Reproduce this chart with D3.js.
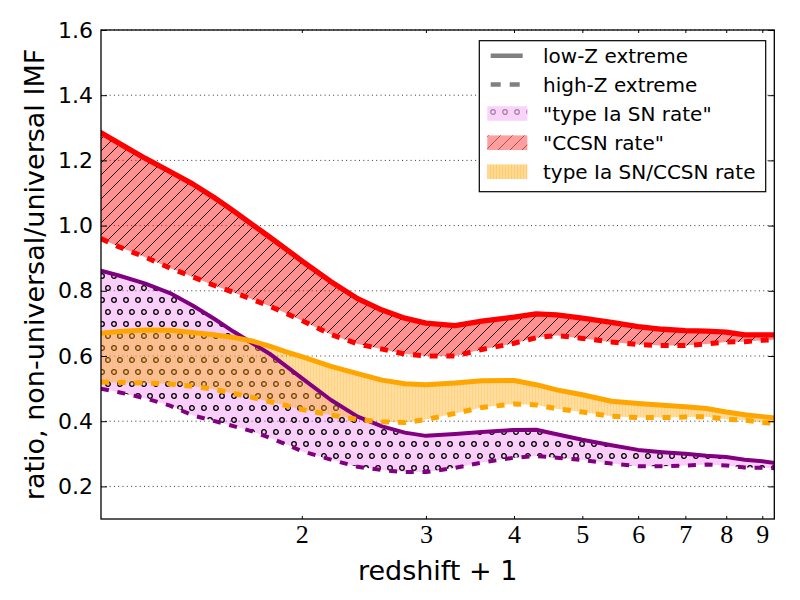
<!DOCTYPE html>
<html><head><meta charset="utf-8">
<script src="https://cdn.jsdelivr.net/npm/d3@7"></script>
<style>body{margin:0;background:#fff}</style>
</head><body>
<svg id="c" width="800" height="600" xmlns="http://www.w3.org/2000/svg"></svg>
<script>
// ---- data ----
const redshiftPlusOne = [1.038,1.1,1.2,1.3,1.4,1.5,1.6,1.7,1.8,1.9,2.0,2.2,2.4,2.6,2.8,3.0,3.3,3.6,4.0,4.3,4.6,5.0,5.5,6.0,6.5,7.0,7.5,8.0,8.5,9.0,9.36];
const ccsnLowZ  = [1.285,1.253,1.206,1.166,1.128,1.087,1.045,1.004,0.965,0.928,0.892,0.828,0.776,0.741,0.716,0.701,0.693,0.707,0.719,0.729,0.726,0.716,0.703,0.690,0.682,0.678,0.676,0.673,0.665,0.665,0.665];
const ccsnHighZ = [0.960,0.935,0.903,0.870,0.843,0.817,0.795,0.774,0.753,0.731,0.709,0.666,0.637,0.621,0.606,0.600,0.600,0.620,0.639,0.656,0.663,0.654,0.643,0.635,0.632,0.632,0.637,0.643,0.644,0.648,0.650];
const ratioLowZ = [0.670,0.675,0.680,0.679,0.672,0.665,0.657,0.646,0.630,0.613,0.598,0.568,0.546,0.526,0.515,0.512,0.517,0.524,0.525,0.512,0.496,0.481,0.461,0.454,0.449,0.444,0.439,0.428,0.420,0.414,0.410];
const ratioHighZ= [0.520,0.519,0.517,0.514,0.507,0.498,0.485,0.473,0.460,0.448,0.436,0.419,0.405,0.398,0.396,0.405,0.424,0.442,0.453,0.450,0.438,0.428,0.415,0.411,0.411,0.413,0.414,0.406,0.403,0.396,0.394];
const iaLowZ    = [0.862,0.847,0.822,0.793,0.755,0.715,0.675,0.640,0.607,0.569,0.532,0.465,0.414,0.384,0.365,0.355,0.361,0.367,0.373,0.374,0.360,0.343,0.326,0.312,0.305,0.300,0.294,0.290,0.282,0.277,0.272];
const iaHighZ   = [0.500,0.489,0.470,0.448,0.418,0.401,0.385,0.369,0.349,0.329,0.308,0.282,0.260,0.250,0.244,0.244,0.257,0.273,0.288,0.293,0.288,0.281,0.270,0.262,0.262,0.264,0.267,0.264,0.258,0.257,0.256];
const xTickValues = [2,3,4,5,6,7,8,9];
const yTickValues = [0.2,0.4,0.6,0.8,1.0,1.2,1.4,1.6];
const legendLabels = ["low-Z extreme","high-Z extreme","\"type Ia SN rate\"","\"CCSN rate\"","type Ia SN/CCSN rate"];
const xLabel = "redshift + 1";
const yLabel = "ratio, non-universal/universal IMF";

// ---- layout ----
const L = 101, R = 774.3, T = 30, B = 519;
const x = d3.scaleLog().domain([1.038, 9.36]).range([L, R]);
const y = d3.scaleLinear().domain([0.1, 1.6]).range([B, T]);

const svg = d3.select("#c");
const defs = svg.append("defs");

// patterns
const pc = defs.append("pattern").attr("id","hCirc").attr("patternUnits","userSpaceOnUse")
  .attr("width",12).attr("height",24);
[[0,0],[12,0],[6,12],[0,24],[12,24]].forEach(p=>pc.append("circle").attr("cx",p[0]).attr("cy",p[1]).attr("r",2.3)
  .attr("fill","none").attr("stroke","#000").attr("stroke-width",1.3));
const pcL = defs.append("pattern").attr("id","hCircL").attr("patternUnits","userSpaceOnUse")
  .attr("width",12).attr("height",24).attr("x",487).attr("y",100);
[[0,0],[12,0],[6,12],[0,24],[12,24]].forEach(p=>pcL.append("circle").attr("cx",p[0]).attr("cy",p[1]).attr("r",2.3)
  .attr("fill","none").attr("stroke","#a080a0").attr("stroke-width",1.2));

function diag(id, color, w){
  const p = defs.append("pattern").attr("id",id).attr("patternUnits","userSpaceOnUse").attr("width",12).attr("height",12);
  p.append("path").attr("d","M-3,3 l6,-6 M0,12 l12,-12 M9,15 l6,-6").attr("stroke",color).attr("stroke-width",w);
}
diag("hDiag","#000",0.9);
diag("hDiagL","#b05050",1);
function vert(id, color){
  const p = defs.append("pattern").attr("id",id).attr("patternUnits","userSpaceOnUse").attr("width",3).attr("height",10);
  p.append("line").attr("x1",1.5).attr("x2",1.5).attr("y1",0).attr("y2",10).attr("stroke",color).attr("stroke-width",1);
}
vert("hVert","rgba(255,165,0,0.18)");
vert("hVertL","rgba(255,165,0,0.25)");

defs.append("clipPath").attr("id","plotClip").append("rect")
  .attr("x",L).attr("y",T).attr("width",R-L).attr("height",B-T);

// grid
const grid = svg.append("g");
yTickValues.forEach(v=>{
  grid.append("line").attr("x1",L).attr("x2",R).attr("y1",y(v)).attr("y2",y(v))
    .attr("stroke","#000").attr("stroke-width",0.8).attr("stroke-dasharray","1,3.3");
});

const plot = svg.append("g").attr("clip-path","url(#plotClip)");
const idx = d3.range(redshiftPlusOne.length);
function band(lo, hi){
  return d3.area().x(i=>x(redshiftPlusOne[i])).y0(i=>y(lo[i])).y1(i=>y(hi[i]))(idx);
}
function line(vals){
  return d3.line().x(i=>x(redshiftPlusOne[i])).y(i=>y(vals[i]))(idx);
}

// type Ia band
plot.append("path").attr("d",band(iaHighZ,iaLowZ)).attr("fill","rgba(238,130,238,0.38)");
plot.append("path").attr("d",band(iaHighZ,iaLowZ)).attr("fill","url(#hCirc)");
// CCSN band
plot.append("path").attr("d",band(ccsnHighZ,ccsnLowZ)).attr("fill","rgba(255,0,0,0.43)");
plot.append("path").attr("d",band(ccsnHighZ,ccsnLowZ)).attr("fill","url(#hDiag)");
// ratio band
plot.append("path").attr("d",band(ratioHighZ,ratioLowZ)).attr("fill","rgba(255,165,0,0.38)");
plot.append("path").attr("d",band(ratioHighZ,ratioLowZ)).attr("fill","url(#hVert)");

// lines
const dash = "8,8.7";
function drawLine(vals, color, w, dashed){
  const p = plot.append("path").attr("d",line(vals)).attr("fill","none").attr("stroke",color)
    .attr("stroke-width",w).attr("stroke-linejoin","round");
  if(dashed) p.attr("stroke-dasharray",dash).attr("stroke-linecap","butt");
  else p.attr("stroke-linecap","square");
}
drawLine(iaHighZ,"purple",4,true);
drawLine(iaLowZ,"purple",4,false);
drawLine(ratioHighZ,"orange",5,true);
drawLine(ratioLowZ,"orange",5,false);
drawLine(ccsnHighZ,"red",5,true);
drawLine(ccsnLowZ,"red",5.3,false);

// axes
const yAxisL = d3.axisLeft(y).tickValues(yTickValues).tickSize(-6).tickPadding(8).tickFormat(d3.format(".1f"));
const gy = svg.append("g").attr("transform",`translate(${L},0)`).call(yAxisL);
gy.selectAll("text").attr("font-family","DejaVu Sans").attr("font-size",22).attr("fill","#000");
const gyR = svg.append("g").attr("transform",`translate(${R},0)`).call(d3.axisRight(y).tickValues(yTickValues).tickSize(-6).tickFormat(""));
const xAxisB = d3.axisBottom(x).tickValues(xTickValues).tickSize(-3).tickFormat(d3.format("d"));
const gx = svg.append("g").attr("transform",`translate(0,${B})`).call(xAxisB);
gx.selectAll("text").attr("font-family","Liberation Serif").attr("font-size",26).attr("fill","#000")
  .attr("y",24).attr("dy","0");
const gxT = svg.append("g").attr("transform",`translate(0,${T})`).call(d3.axisTop(x).tickValues(xTickValues).tickSize(-3).tickFormat(""));
[gy,gyR,gx,gxT].forEach(g=>{ g.select(".domain").remove(); g.selectAll(".tick line").attr("stroke","#000").attr("stroke-width",1); });

svg.append("rect").attr("x",L).attr("y",T).attr("width",R-L).attr("height",B-T)
  .attr("fill","none").attr("stroke","#000").attr("stroke-width",1.3);

// axis labels
svg.append("text").attr("x",(L+R)/2).attr("y",580).attr("text-anchor","middle")
  .attr("font-family","DejaVu Sans").attr("font-size",27).text(xLabel);
svg.append("text").attr("transform",`translate(44,${(T+B)/2}) rotate(-90)`).attr("text-anchor","middle")
  .attr("font-family","DejaVu Sans").attr("font-size",27).text(yLabel);

// legend
const lg = svg.append("g");
lg.append("rect").attr("x",479.3).attr("y",40.7).attr("width",286.4).attr("height",151)
  .attr("fill","#fff").attr("stroke","#000").attr("stroke-width",1.2);
const rowY = [55.7,84.5,113.5,142.7,171.7];
lg.append("line").attr("x1",490.7).attr("x2",522.7).attr("y1",rowY[0]).attr("y2",rowY[0])
  .attr("stroke","#808080").attr("stroke-width",4.5);
lg.append("line").attr("x1",490.7).attr("x2",522.7).attr("y1",rowY[1]).attr("y2",rowY[1])
  .attr("stroke","#808080").attr("stroke-width",4.5).attr("stroke-dasharray","10,9");
function patch(i, fill, hatch){
  lg.append("rect").attr("x",487.3).attr("y",rowY[i]-7.3).attr("width",40).attr("height",14.6).attr("fill",fill);
  if(hatch) lg.append("rect").attr("x",487.3).attr("y",rowY[i]-7.3).attr("width",40).attr("height",14.6).attr("fill",hatch);
}
patch(2,"rgba(238,130,238,0.35)","url(#hCircL)");
patch(3,"rgba(255,0,0,0.38)","url(#hDiagL)");
patch(4,"rgba(255,165,0,0.42)","url(#hVertL)");
legendLabels.forEach((t,i)=>{
  lg.append("text").attr("x",543).attr("y",rowY[i]+7.5).attr("font-family","DejaVu Sans")
    .attr("font-size",20).attr("fill","#000").text(t);
});
</script>
</body></html>
